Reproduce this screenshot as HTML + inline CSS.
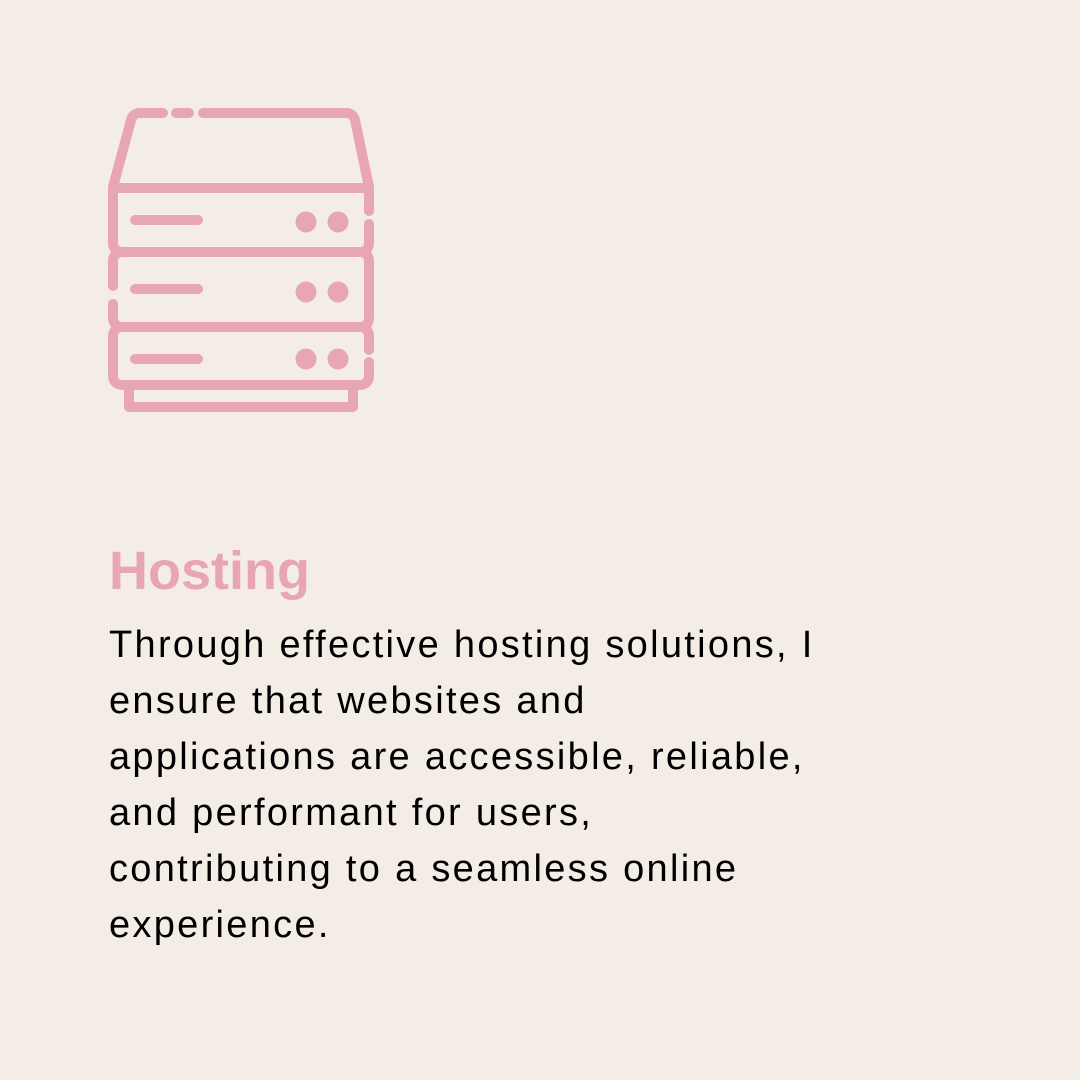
<!DOCTYPE html>
<html><head><meta charset="utf-8"><style>
html,body{margin:0;padding:0;}
body{width:1080px;height:1080px;background:#f4ede6;position:relative;overflow:hidden;font-family:"Liberation Sans",sans-serif;}
.h{position:absolute;left:109px;top:539px;font-size:54px;font-weight:bold;color:#e8a5b5;line-height:64px;white-space:nowrap;}
.l{position:absolute;left:109px;font-size:38px;letter-spacing:2.3px;color:#000;line-height:40px;white-space:nowrap;}
</style></head><body>
<svg width="1080" height="1080" style="position:absolute;left:0;top:0" fill="none" stroke="#e8a5b5" stroke-width="10" stroke-linecap="round" stroke-linejoin="round">
<path d="M163 113 H140 Q133 113 131 120 L113 187"/>
<path d="M176 113 H189"/>
<path d="M203 113 H346 Q353 113 355 120 L369 187"/>
<path d="M113 188 H369"/>
<path d="M113 187 V242 Q113 252 123 252 H359 Q369 252 369 242 V224"/>
<path d="M369 187 V211"/>
<path d="M123 252 Q113 252 113 262 V286"/>
<path d="M113 304 V317 Q113 327 123 327 H359 Q369 327 369 317 V262 Q369 252 359 252"/>
<path d="M123 327 Q113 327 113 337 V375 Q113 385 123 385 H359 Q369 385 369 375 V362"/>
<path d="M369 350 V337 Q369 327 359 327"/>
<path d="M129 385 V407 H353 V385"/>
<path d="M135 220 H198 M135 289 H198 M135 359 H198"/>
<g fill="#e8a5b5" stroke="none">
<circle cx="306" cy="222" r="10.5"/><circle cx="338" cy="222" r="10.5"/>
<circle cx="306" cy="292" r="10.5"/><circle cx="338" cy="292" r="10.5"/>
<circle cx="306" cy="359" r="10.5"/><circle cx="338" cy="359" r="10.5"/>
</g>
</svg>
<div class="h">Hosting</div>
<div class="l" style="top:625px">Through effective hosting solutions, I</div>
<div class="l" style="top:681px">ensure that websites and</div>
<div class="l" style="top:737px">applications are accessible, reliable,</div>
<div class="l" style="top:793px">and performant for users,</div>
<div class="l" style="top:849px">contributing to a seamless online</div>
<div class="l" style="top:905px">experience.</div>
</body></html>
